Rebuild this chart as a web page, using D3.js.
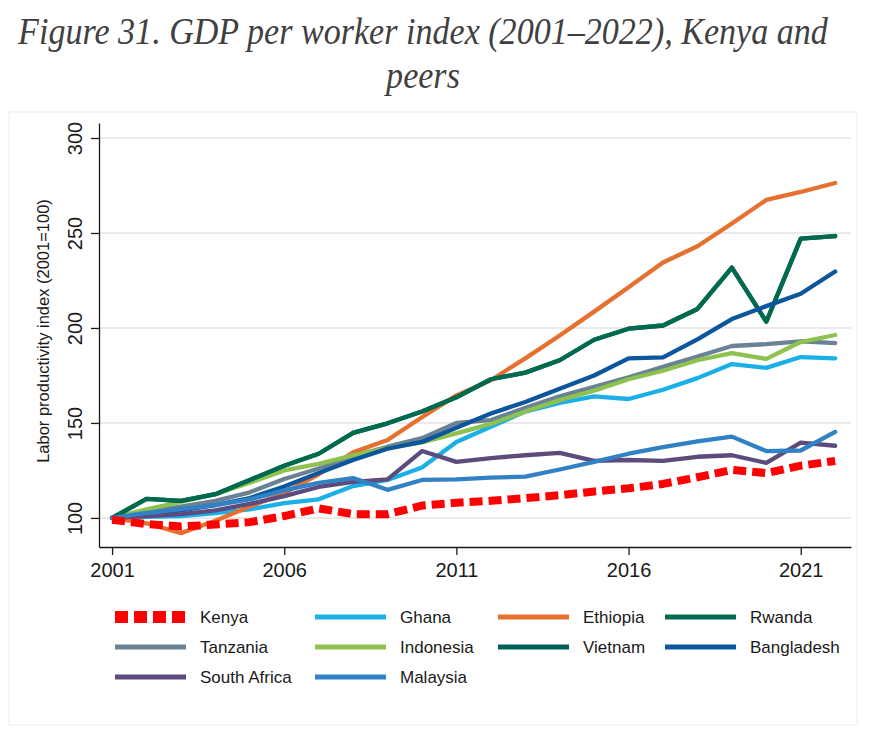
<!DOCTYPE html>
<html>
<head>
<meta charset="utf-8">
<script src="https://cdn.jsdelivr.net/npm/d3@7"></script>
<style>
  body { margin: 0; background: #fff; }
  svg { display: block; }
</style>
</head>
<body>
<div class="chart"></div>
<script>
const years = d3.range(2001, 2023);

const kenya = [99, 96.8, 95.5, 96.5, 97.8, 101, 105, 102, 102, 106.5, 108, 109, 110.4, 112, 113.9, 115.6, 117.9, 121.4, 125.3, 123.6, 127.5, 130];
const ghana = [100, 100.6, 101, 102.6, 104.5, 107.8, 109.8, 116.8, 120, 126.5, 140, 148, 156, 160.5, 164, 162.6, 167.5, 173.6, 181, 179, 184.7, 184];
const ethiopia = [100, 97.2, 92, 98.5, 106, 113, 123, 134.5, 141, 153, 164.5, 172.5, 184, 196, 208.6, 221.5, 234.5, 243, 255, 267.4, 271.6, 276.3];
const rwanda = [100, 110, 109, 112.5, 120, 127.5, 133.8, 144.8, 149.8, 156, 163.5, 173, 176.5, 183, 193.8, 199.6, 201.3, 210, 231.8, 203.3, 247, 248.4];
const tanzania = [100, 103.3, 106, 109, 113.5, 120.5, 126, 132.5, 137.5, 142, 150, 151.5, 158, 164, 169, 174, 179.5, 185, 190.5, 191.5, 193, 192];
const indonesia = [100, 104.5, 108.5, 112.5, 118.5, 125, 128.5, 133, 136.8, 139.8, 144.5, 149.5, 156, 162, 167, 173, 177.5, 183, 186.8, 183.7, 192.6, 196.3];
// not visible in the picture, sits under Rwanda
const vietnam = [100, 110, 109, 112.5, 120, 127.5, 133.8, 144.8, 149.8, 156, 163.5, 173, 176.5, 183, 193.8, 199.6, 201.3, 210, 231.8, 203.3, 247, 248.4];
const bangladesh = [100, 102, 104, 106.8, 110.5, 116.5, 123.6, 130.5, 136.5, 140, 147.5, 155, 161, 168, 175, 184, 184.5, 194, 204.7, 211.5, 218, 229.7];
const southAfrica = [100, 101, 102, 104, 107.4, 111.5, 116.3, 119, 120.3, 135.2, 129.5, 131.5, 133, 134.2, 130, 130.5, 130, 132.2, 133, 129, 139.6, 138];
const malaysia = [100, 102.6, 104.6, 106.8, 109.8, 114.5, 118.5, 121, 114.8, 120, 120.3, 121.2, 121.7, 125.5, 129.5, 133.8, 137.3, 140.3, 142.8, 135.2, 135.5, 145.3];

const countries = ['Kenya', 'Ghana', 'Ethiopia', 'Rwanda', 'Tanzania', 'Indonesia', 'Vietnam', 'Bangladesh', 'South Africa', 'Malaysia'];
const values = [kenya, ghana, ethiopia, rwanda, tanzania, indonesia, vietnam, bangladesh, southAfrica, malaysia];
const colors = ['#ff0000', '#1aafe6', '#e5702f', '#006a4e', '#6b8294', '#8dc250', '#00605a', '#0b569c', '#5e4b7e', '#3182c4'];

const yTicks = [100, 150, 200, 250, 300];
const xTicks = [2001, 2006, 2011, 2016, 2021];

const width = 886, height = 738;
const svg = d3.select('.chart')
  .append('svg')
    .attr('width', width)
    .attr('height', height);

// faint frame
svg.append('rect')
  .attr('x', 9).attr('y', 112)
  .attr('width', 848).attr('height', 613)
  .attr('fill', 'none')
  .attr('stroke', '#f2f2f2')
  .attr('stroke-width', 1.5);

// title: tall narrow italic, squeeze it horizontally to the reference width
const titleLines = ['Figure 31. GDP per worker index (2001–2022), Kenya and', 'peers'];
const titleBase = [44, 88];
const title = svg.append('g')
  .attr('font-family', '"Liberation Serif", "DejaVu Serif", serif')
  .attr('font-style', 'italic')
  .attr('font-size', 38)
  .attr('fill', '#404040')
  .attr('text-anchor', 'middle');

const tl = title.selectAll('text')
  .data(titleLines)
  .enter().append('text')
    .text(d => d);
const sx = 810 / tl.node().getComputedTextLength();
tl.attr('transform', (d, i) => `translate(423, ${titleBase[i]}) scale(${sx}, 1)`);

const x = d3.scaleLinear().domain([2000.62, 2022.46]).range([99, 851]);
const y = d3.scaleLinear().domain([84.7, 307.9]).range([547, 123]);

// gridlines
svg.append('g')
  .selectAll('line')
  .data(yTicks)
  .enter().append('line')
    .attr('x1', x.range()[0]).attr('x2', x.range()[1])
    .attr('y1', d => y(d)).attr('y2', d => y(d))
    .attr('stroke', '#eaeaea')
    .attr('stroke-width', 2);

const xAxis = d3.axisBottom(x).tickValues(xTicks).tickFormat(d3.format('d')).tickSize(8).tickSizeOuter(0).tickPadding(8);
const yAxis = d3.axisLeft(y).tickValues(yTicks).tickSize(8).tickSizeOuter(0);

const gx = svg.append('g')
  .attr('transform', `translate(0, ${y.range()[0]})`)
  .call(xAxis);

const gy = svg.append('g')
  .attr('transform', `translate(${x.range()[0]}, 0)`)
  .call(yAxis);

[gx, gy].forEach(g => {
  g.selectAll('path, line').attr('stroke', '#1a1a1a').attr('stroke-width', 1.3);
  g.selectAll('text')
    .attr('fill', '#1a1a1a')
    .attr('font-family', '"Liberation Sans", Arial, sans-serif')
    .attr('font-size', 20);
});

gy.selectAll('text')
  .attr('transform', 'rotate(-90)')
  .attr('x', 0)
  .attr('y', -17)
  .attr('dy', 0)
  .attr('text-anchor', 'middle');

{
  let tx = 49, ty = 331;
  svg.append('text')
    .text('Labor productivity index (2001=100)')
    .attr('x', tx)
    .attr('y', ty)
    .attr('transform', `rotate(270 ${tx} ${ty})`)
    .attr('text-anchor', 'middle')
    .attr('font-family', '"Liberation Sans", Arial, sans-serif')
    .attr('font-size', 16.5)
    .attr('fill', '#1a1a1a');
}

const line = d3.line()
  .x((d, i) => x(years[i]))
  .y(d => y(d));

// draw the others first, Kenya on top
const order = [1, 2, 4, 5, 6, 3, 7, 8, 9, 0];
svg.append('g')
  .selectAll('path')
  .data(order)
  .enter().append('path')
    .attr('d', i => line(values[i]))
    .attr('fill', 'none')
    .attr('stroke', i => colors[i])
    .attr('stroke-width', i => i === 0 ? 8 : 4.3)
    .attr('stroke-dasharray', i => i === 0 ? '13 6' : null)
    .attr('stroke-linejoin', 'round')
    .attr('stroke-linecap', i => i === 0 ? 'butt' : 'round');

// legend
const colX = [200, 400, 583, 750];
const rowY = [617, 647, 677];
const legend = svg.append('g')
  .selectAll('g')
  .data(countries)
  .enter().append('g')
    .attr('transform', (d, i) => `translate(${colX[i % 4]}, ${rowY[Math.floor(i / 4)]})`);

legend.append('line')
  .attr('x1', -85).attr('x2', -14)
  .attr('y1', 0).attr('y2', 0)
  .attr('stroke', (d, i) => colors[i])
  .attr('stroke-width', (d, i) => i === 0 ? 12 : 5)
  .attr('stroke-dasharray', (d, i) => i === 0 ? '13 6' : null);

legend.append('text')
  .text(d => d)
  .attr('dy', '0.35em')
  .attr('font-family', '"Liberation Sans", Arial, sans-serif')
  .attr('font-size', 17)
  .attr('fill', '#1a1a1a');
</script>
</body>
</html>
